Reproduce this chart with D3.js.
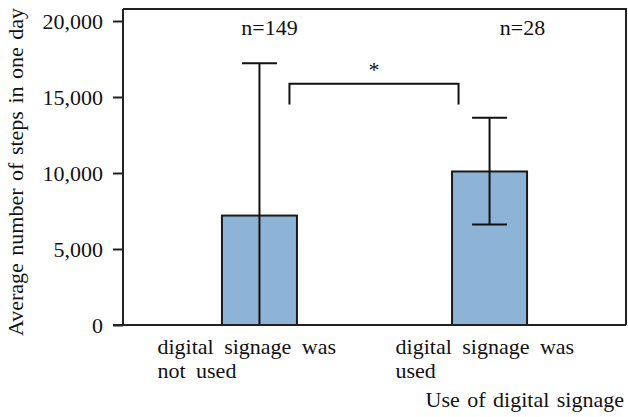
<!DOCTYPE html>
<html>
<head>
<meta charset="utf-8">
<script src="https://cdn.jsdelivr.net/npm/d3@7"></script>
<style>
  body { margin: 0; background: #fff; }
  text { font-family: "Liberation Serif", "Times New Roman", serif; fill: #111; }
</style>
</head>
<body>
<svg id="chart"></svg>
<script>
var width = 628, height = 417;
var margin = {top: 9, right: 2, bottom: 92, left: 123};

// data
var groups = ["not used", "used"];
var labelLines = [["digital signage was", "not used"], ["digital signage was", "used"]];
var means = [7200, 10100];
var errLow = [0, 6620];
var errHigh = [17220, 13640];
var nLabels = ["n=149", "n=28"];
var yTicks = [0, 5000, 10000, 15000, 20000];

var svg = d3.select("#chart")
  .attr("width", width)
  .attr("height", height);

var w = width - margin.left - margin.right,
    h = height - margin.top - margin.bottom;

var g = svg.append("g")
  .attr("transform", "translate(" + margin.left + "," + margin.top + ")");

var x = d3.scalePoint().domain(groups).range([0, w]).padding(0.593);
var y = d3.scaleLinear().domain([0, 20790]).range([h, 0]);
var barW = 75, capW = 35;

// frame (top + right)
g.append("path")
  .attr("d", "M0,0H" + w + "V" + h)
  .attr("fill", "none").attr("stroke", "#222").attr("stroke-width", 2);

// bars
g.selectAll("rect.bar").data(groups).enter()
  .append("rect")
  .attr("class", "bar")
  .attr("x", function(d) { return x(d) - barW / 2; })
  .attr("y", function(d, i) { return y(means[i]); })
  .attr("width", barW)
  .attr("height", function(d, i) { return h - y(means[i]); })
  .attr("fill", "#8db4d6")
  .attr("stroke", "#1a1a1a")
  .attr("stroke-width", 2);

// error bars
var eb = g.selectAll("g.err").data(groups).enter().append("g").attr("class", "err");
eb.append("line")
  .attr("x1", function(d) { return x(d); })
  .attr("x2", function(d) { return x(d); })
  .attr("y1", function(d, i) { return y(errLow[i]); })
  .attr("y2", function(d, i) { return y(errHigh[i]); })
  .attr("stroke", "#111").attr("stroke-width", 2);
eb.append("line")
  .attr("x1", function(d) { return x(d) - capW / 2; })
  .attr("x2", function(d) { return x(d) + capW / 2; })
  .attr("y1", function(d, i) { return y(errHigh[i]); })
  .attr("y2", function(d, i) { return y(errHigh[i]); })
  .attr("stroke", "#111").attr("stroke-width", 2);
eb.filter(function(d, i) { return errLow[i] > 0; }).append("line")
  .attr("x1", function(d) { return x(d) - capW / 2; })
  .attr("x2", function(d) { return x(d) + capW / 2; })
  .attr("y1", function(d) { return y(errLow[groups.indexOf(d)]); })
  .attr("y2", function(d) { return y(errLow[groups.indexOf(d)]); })
  .attr("stroke", "#111").attr("stroke-width", 2);

// significance bracket
var bx1 = x(groups[0]) + 30, bx2 = x(groups[1]) - 31;
var bTop = y(15880), bBot = y(14500);
g.append("path")
  .attr("d", "M" + bx1 + "," + bBot + "V" + bTop + "H" + bx2 + "V" + bBot)
  .attr("fill", "none").attr("stroke", "#111").attr("stroke-width", 2);
g.append("text")
  .attr("x", (bx1 + bx2) / 2)
  .attr("y", bTop - 7)
  .attr("text-anchor", "middle")
  .style("font-size", "22px")
  .text("*");

// n labels
g.selectAll("text.n").data(nLabels).enter()
  .append("text")
  .attr("class", "n")
  .attr("x", function(d, i) { return x(groups[i]) + (i == 0 ? 10 : 33); })
  .attr("y", 26)
  .attr("text-anchor", "middle")
  .style("font-size", "22px")
  .text(function(d) { return d; });

// y axis
var yAxis = d3.axisLeft(y).tickValues(yTicks).tickSize(10).tickPadding(10)
  .tickFormat(d3.format(","));
var ya = g.append("g").call(yAxis);
ya.select(".domain").attr("stroke", "#222").attr("stroke-width", 2)
  .attr("d", "M0," + h + "V0");
ya.selectAll(".tick line").attr("stroke", "#222").attr("stroke-width", 2);
ya.selectAll(".tick text")
  .style("font-family", "'Liberation Serif', serif")
  .style("font-size", "22px").attr("fill", "#111");

// x axis line
g.append("line")
  .attr("x1", -10).attr("x2", w)
  .attr("y1", h).attr("y2", h)
  .attr("stroke", "#222").attr("stroke-width", 2);

// category labels
var cl = g.selectAll("text.cat").data(groups).enter()
  .append("text")
  .attr("class", "cat")
  .style("font-size", "22px")
  .style("word-spacing", "5px");
cl.selectAll("tspan").data(function(d, i) {
    return labelLines[i].map(function(t) { return {t: t, c: x(d) - (i == 0 ? 102 : 94)}; });
  }).enter()
  .append("tspan")
  .attr("x", function(d) { return d.c; })
  .attr("y", function(d, j) { return h + 29 + j * 24; })
  .text(function(d) { return d.t; });

// axis titles
svg.append("text")
  .attr("x", 624).attr("y", 407)
  .attr("text-anchor", "end")
  .style("font-size", "22px")
  .style("word-spacing", "2px")
  .text("Use of digital signage");

svg.append("text")
  .attr("transform", "translate(23," + 172 + ") rotate(-90)")
  .attr("text-anchor", "middle")
  .style("font-size", "22px")
  .style("word-spacing", "2px")
  .text("Average number of steps in one day");
</script>
</body>
</html>
